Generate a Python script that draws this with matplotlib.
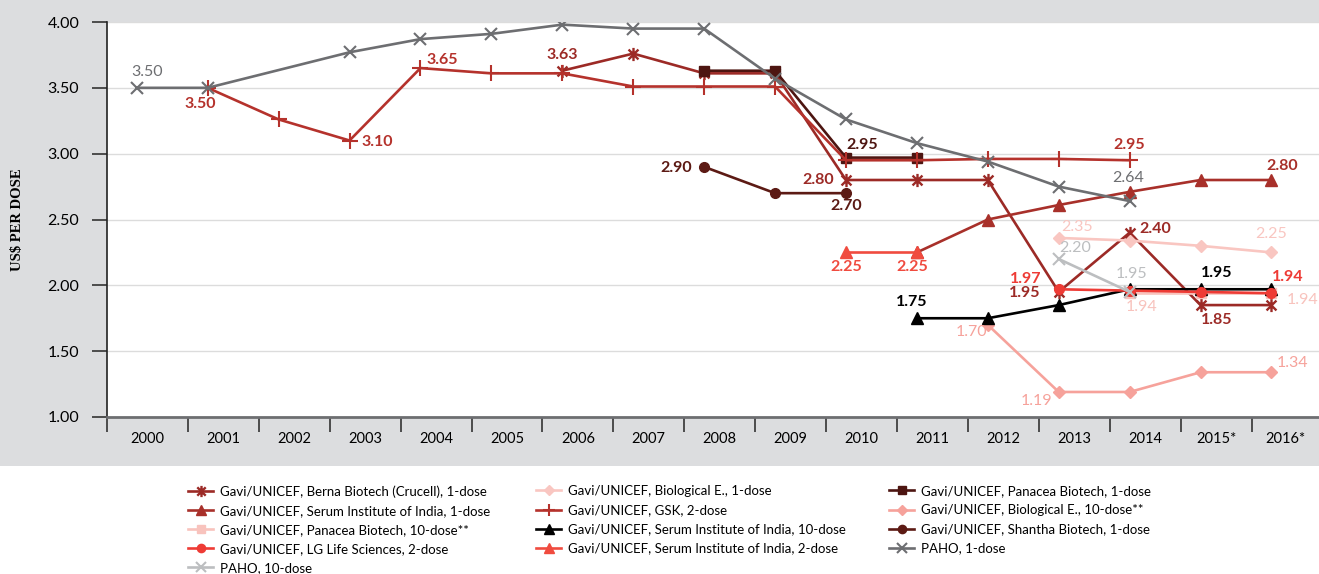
import numpy as np
import matplotlib.pyplot as plt
from matplotlib.patches import Rectangle
from matplotlib.path import Path

plt.rcParams['font.family'] = ['Lato', 'DejaVu Sans']

years = ['2000', '2001', '2002', '2003', '2004', '2005', '2006', '2007', '2008',
         '2009', '2010', '2011', '2012', '2013', '2014', '2015*', '2016*']

N = None
# price per dose by year (None = no price that year)
berna_1 = [N, N, N, N, N, N, 3.63, 3.76, 3.61, 3.61, 2.80, 2.80, 2.80, 1.95, 2.40, 1.85, 1.85]
bioe_1 = [N] * 13 + [2.36, 2.34, 2.30, 2.25]
panacea_1 = [N] * 8 + [3.63, 3.63, 2.97, 2.97, N, N, N, N, N]
serum_1 = [N] * 11 + [2.25, 2.50, 2.61, 2.71, 2.80, 2.80]
gsk_2 = [N, 3.50, 3.26, 3.10, 3.65, 3.61, 3.61, 3.51, 3.51, 3.51, 2.95, 2.95, 2.96, 2.96, 2.95, N, N]
bioe_10 = [N] * 12 + [1.70, 1.19, 1.19, 1.34, 1.34]
panacea_10 = [N] * 14 + [1.94, 1.94, 1.94]
serum_10 = [N] * 11 + [1.75, 1.75, 1.85, 1.97, 1.97, 1.97]
shantha_1 = [N] * 8 + [2.90, 2.70, 2.70, N, N, N, N, N, N]
lg_2 = [N] * 13 + [1.97, 1.96, 1.95, 1.94]
serum_2 = [N] * 10 + [2.25, 2.25, N, N, N, N, N]
paho_1 = [3.50, 3.50, N, 3.77, 3.87, 3.91, 3.98, 3.95, 3.95, 3.57, 3.26, 3.08, 2.94, 2.75, 2.64, N, N]
paho_10 = [N] * 13 + [2.20, 1.95, N, N]

names = {
    'berna_1': 'Gavi/UNICEF, Berna Biotech (Crucell), 1-dose',
    'bioe_1': 'Gavi/UNICEF, Biological E., 1-dose',
    'panacea_1': 'Gavi/UNICEF, Panacea Biotech, 1-dose',
    'serum_1': 'Gavi/UNICEF, Serum Institute of India, 1-dose',
    'gsk_2': 'Gavi/UNICEF, GSK, 2-dose',
    'bioe_10': 'Gavi/UNICEF, Biological E., 10-dose**',
    'panacea_10': 'Gavi/UNICEF, Panacea Biotech, 10-dose**',
    'serum_10': 'Gavi/UNICEF, Serum Institute of India, 10-dose',
    'shantha_1': 'Gavi/UNICEF, Shantha Biotech, 1-dose',
    'lg_2': 'Gavi/UNICEF, LG Life Sciences, 2-dose',
    'serum_2': 'Gavi/UNICEF, Serum Institute of India, 2-dose',
    'paho_1': 'PAHO, 1-dose',
    'paho_10': 'PAHO, 10-dose',
}
values = {
    'berna_1': berna_1, 'bioe_1': bioe_1, 'panacea_1': panacea_1, 'serum_1': serum_1,
    'gsk_2': gsk_2, 'bioe_10': bioe_10, 'panacea_10': panacea_10, 'serum_10': serum_10,
    'shantha_1': shantha_1, 'lg_2': lg_2, 'serum_2': serum_2, 'paho_1': paho_1,
    'paho_10': paho_10,
}

# asterisk-like star marker (x with a vertical bar)
star = Path([(0, -1), (0, 1), (-0.75, -0.75), (0.75, 0.75), (-0.75, 0.75), (0.75, -0.75)],
            [Path.MOVETO, Path.LINETO] * 3)

styles = {
    'berna_1': dict(color='#9c2a26', marker=star, ms=9.5, mfc='none', mew=1.7),
    'bioe_1': dict(color='#f9c6c1', marker='D', ms=6),
    'panacea_1': dict(color='#4d1511', marker='s', ms=7),
    'serum_1': dict(color='#a8302a', marker='^', ms=8.5),
    'gsk_2': dict(color='#b5322c', marker='+', ms=11, mew=1.5),
    'bioe_10': dict(color='#f6a29b', marker='D', ms=6),
    'panacea_10': dict(color='#f8c3bd', marker='s', ms=7),
    'serum_10': dict(color='#000000', marker='^', ms=8.5),
    'shantha_1': dict(color='#5c1a14', marker='o', ms=7),
    'lg_2': dict(color='#ee3b35', marker='o', ms=7),
    'serum_2': dict(color='#f04b3f', marker='^', ms=8.5),
    'paho_1': dict(color='#6d6e71', marker='x', ms=8, mew=1.5),
    'paho_10': dict(color='#bcbec0', marker='x', ms=8, mew=1.5),
}

# value labels: series, year index, text, offset (px), alignment, weight
labels = [
    ('paho_1', 0, '3.50', 10, 16, 'center', 'normal'),
    ('gsk_2', 1, '3.50', -7, -16, 'center', 'bold'),
    ('gsk_2', 3, '3.10', 12, -1, 'left', 'bold'),
    ('gsk_2', 4, '3.65', 6, 8, 'left', 'bold'),
    ('berna_1', 6, '3.63', 0, 16, 'center', 'bold'),
    ('shantha_1', 8, '2.90', -12, -1, 'right', 'bold'),
    ('panacea_1', 10, '2.95', 16, 13, 'center', 'bold'),
    ('berna_1', 10, '2.80', -12, 0, 'right', 'bold'),
    ('shantha_1', 10, '2.70', 0, -13, 'center', 'bold'),
    ('gsk_2', 14, '2.95', 0, 15, 'center', 'bold'),
    ('paho_1', 14, '2.64', -2, 23, 'center', 'normal'),
    ('serum_1', 16, '2.80', 11, 14, 'center', 'bold'),
    ('serum_2', 10, '2.25', 0, -15, 'center', 'bold'),
    ('serum_2', 11, '2.25', -5, -15, 'center', 'bold'),
    ('berna_1', 14, '2.40', 10, 4, 'left', 'bold'),
    ('bioe_1', 13, '2.35', 18, 11, 'center', 'normal'),
    ('bioe_1', 16, '2.25', 0, 18, 'center', 'normal'),
    ('paho_10', 13, '2.20', 16, 11, 'center', 'normal'),
    ('lg_2', 13, '1.97', -17, 10, 'right', 'bold'),
    ('berna_1', 13, '1.95', -18, -1, 'right', 'bold'),
    ('paho_10', 14, '1.95', 2, 18, 'center', 'normal'),
    ('panacea_10', 14, '1.94', 12, -14, 'center', 'normal'),
    ('serum_10', 15, '1.95', 16, 16, 'center', 'bold'),
    ('berna_1', 15, '1.85', 16, -15, 'center', 'bold'),
    ('lg_2', 16, '1.94', 16, 16, 'center', 'bold'),
    ('panacea_10', 16, '1.94', 31, -7, 'center', 'normal'),
    ('bioe_10', 16, '1.34', 21, 9, 'center', 'normal'),
    ('bioe_10', 12, '1.70', -16, -7, 'center', 'normal'),
    ('bioe_10', 13, '1.19', -22, -9, 'center', 'normal'),
    ('serum_10', 11, '1.75', -5, 16, 'center', 'bold'),
]

W, H = 1319, 574
fig = plt.figure(figsize=(W / 100, H / 100), dpi=100)
fig.patches.append(Rectangle((0, 108 / H), 1, 1 - 108 / H, transform=fig.transFigure,
                             facecolor='#dcdddf', edgecolor='none', zorder=-10))
ax = fig.add_axes([107 / W, 157 / H, 1212 / W, 395 / H])
ax.set_facecolor('white')

x = np.arange(len(years))
handles = {}
for key in names:
    v = np.array([np.nan if a is None else a for a in values[key]], dtype=float)
    m = ~np.isnan(v)
    st = dict(styles[key])
    c = st.pop('color')
    st.setdefault('mfc', c)
    h, = ax.plot(x[m], v[m], color=c, mec=c, lw=1.9, label=names[key], **st)
    handles[key] = h

for key, i, txt, dx, dy, ha, wt in labels:
    ax.annotate(txt, xy=(i, values[key][i]), xytext=(dx, dy), textcoords='offset pixels',
                ha=ha, va='center', color=styles[key]['color'], fontsize=11.5,
                fontweight=wt, zorder=20)

xl, xr = -0.42, 16.67
ax.set_xlim(xl, xr)
ax.set_ylim(1, 4)

bounds = np.concatenate([[xl], np.arange(16) + 0.72])
ax.set_xticks(bounds)
ax.set_xticklabels([])
ax.tick_params(axis='x', which='major', length=11, width=1.2, color='#333333', direction='out')
edges = np.concatenate([bounds, [xr]])
mids = (edges[:-1] + edges[1:]) / 2
ax.set_xticks(mids, minor=True)
ax.set_xticklabels(years, minor=True, fontsize=10.5)
ax.tick_params(axis='x', which='minor', length=0, pad=11)

yt = [1.0, 1.5, 2.0, 2.5, 3.0, 3.5, 4.0]
ax.set_yticks(yt)
ax.set_yticklabels(['%.2f' % t for t in yt], fontsize=11.5)
ax.tick_params(axis='y', length=11, width=1.2, color='#333333', pad=9)
ax.grid(axis='y', color='#dcdcdc', lw=1)
ax.set_axisbelow(True)

for s in ['top', 'right']:
    ax.spines[s].set_visible(False)
ax.spines['left'].set_color('#222222')
ax.spines['left'].set_linewidth(1.2)
ax.spines['bottom'].set_color('#6d6e71')
ax.spines['bottom'].set_linewidth(2)

fig.text(18 / W, 1 - 220 / H, 'US$ PER DOSE', rotation=90, ha='center', va='center',
         family='Liberation Serif', fontweight='bold', fontsize=10.5)

cols = [
    (['berna_1', 'serum_1', 'panacea_10', 'lg_2', 'paho_10'], 188),
    (['bioe_1', 'gsk_2', 'serum_10', 'serum_2'], 536),
    (['panacea_1', 'bioe_10', 'shantha_1', 'paho_1'], 889),
]
for keys, left in cols:
    fig.legend([handles[k] for k in keys], [names[k] for k in keys],
               loc='upper left', bbox_to_anchor=(left / W, 1 - 485 / H),
               frameon=False, borderpad=0, borderaxespad=0, fontsize=9.5,
               handlelength=1.9, handletextpad=0.55, labelspacing=0.54,
               markerscale=0.85)

fig.savefig('out.png', dpi=100)
